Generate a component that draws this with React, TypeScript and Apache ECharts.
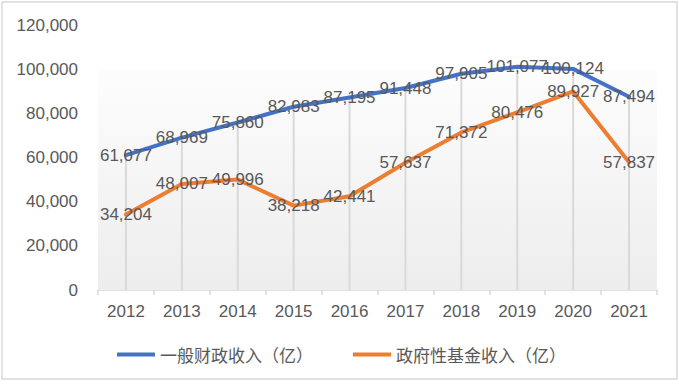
import React, { useEffect, useRef } from "react";
import * as echarts from "echarts";

const years = ["2012", "2013", "2014", "2015", "2016", "2017", "2018", "2019", "2020", "2021"];
const generalRevenue = [61077, 68969, 75860, 82983, 87195, 91448, 97905, 101077, 100124, 87494];
const fundRevenue = [34204, 48007, 49996, 38218, 42441, 57637, 71372, 80476, 89927, 57837];
const seriesNames = ["一般财政收入（亿）", "政府性基金收入（亿）"];
const yTicks = { min: 0, max: 120000, interval: 20000 };

const textColor = "#595959";
const numFont = "'Liberation Sans', Arial, sans-serif";
const cjkFont = "'Noto Sans CJK SC', sans-serif";

export default function App() {
  const ref = useRef<HTMLDivElement>(null);
  useEffect(() => {
    document.body.style.margin = "0";
    const chart = echarts.init(ref.current!, null, { renderer: "svg" });
    const dropValues = generalRevenue.map((v, i) => Math.max(v, fundRevenue[i]));
    const fmt = (p: any) => Number(p.value).toLocaleString("en-US");
    const labelCfg = {
      show: true,
      position: "inside",
      color: textColor,
      fontSize: 17,
      fontFamily: numFont,
      formatter: fmt,
    };
    chart.setOption({
      animation: false,
      backgroundColor: "#ffffff",
      graphic: [
        {
          type: "rect",
          shape: { x: 2, y: 2, width: 675, height: 377 },
          style: { fill: "none", stroke: "#d9d9d9", lineWidth: 1.5 },
          silent: true,
        },
      ],
      grid: { left: 98, right: 22, top: 25, bottom: 94 },
      legend: {
        data: seriesNames,
        left: 112,
        top: 341,
        icon: "rect",
        itemWidth: 38,
        itemHeight: 4,
        itemGap: 40,
        textStyle: { color: textColor, fontSize: 17, fontFamily: cjkFont },
      },
      xAxis: {
        type: "category",
        data: years,
        boundaryGap: true,
        axisLine: { lineStyle: { color: "#d9d9d9", width: 1.5 } },
        axisTick: { show: true, length: 5, lineStyle: { color: "#d9d9d9", width: 1.5 } },
        axisLabel: { color: textColor, fontSize: 17, fontFamily: numFont, margin: 13 },
        splitLine: { show: false },
      },
      yAxis: {
        type: "value",
        min: yTicks.min,
        max: yTicks.max,
        interval: yTicks.interval,
        axisLine: { show: false },
        axisTick: { show: false },
        splitLine: { show: false },
        axisLabel: {
          color: textColor,
          fontSize: 17,
          fontFamily: numFont,
          margin: 20,
          formatter: (v: number) => v.toLocaleString("en-US"),
        },
      },
      series: [
        {
          name: "drop",
          type: "bar",
          data: dropValues,
          barWidth: 2,
          itemStyle: { color: "#d9d9d9" },
          silent: true,
          z: 1,
          markArea: {
            silent: true,
            itemStyle: {
              color: {
                type: "linear",
                x: 0,
                y: 0,
                x2: 0,
                y2: 1,
                colorStops: [
                  { offset: 0, color: "#fdfdfd" },
                  { offset: 1, color: "#ededed" },
                ],
              },
            },
            data: [[{ yAxis: 0 }, { yAxis: 100000 }]],
          },
        },
        {
          name: seriesNames[0],
          type: "line",
          data: generalRevenue,
          symbol: "circle",
          symbolSize: 0.1,
          showSymbol: true,
          lineStyle: { color: "#4472C4", width: 4, join: "round", cap: "round" },
          itemStyle: { color: "#4472C4" },
          z: 3,
          label: labelCfg,
        },
        {
          name: seriesNames[1],
          type: "line",
          data: fundRevenue,
          symbol: "circle",
          symbolSize: 0.1,
          showSymbol: true,
          lineStyle: { color: "#ED7D31", width: 4, join: "round", cap: "round" },
          itemStyle: { color: "#ED7D31" },
          z: 3,
          label: labelCfg,
        },
      ],
    });
    return () => chart.dispose();
  }, []);
  return (
    <div
      ref={ref}
      style={{ position: "absolute", left: 0, top: 0, width: 679, height: 384 }}
    />
  );
}
